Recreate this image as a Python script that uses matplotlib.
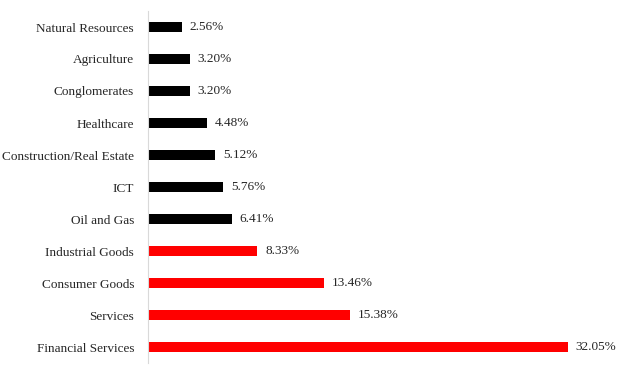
import matplotlib.pyplot as plt

categories = ['Financial Services', 'Services', 'Consumer Goods', 'Industrial Goods',
              'Oil and Gas', 'ICT', 'Construction/Real Estate', 'Healthcare',
              'Conglomerates', 'Agriculture', 'Natural Resources']
shares = [32.05, 15.38, 13.46, 8.33, 6.41, 5.76, 5.12, 4.48, 3.20, 3.20, 2.56]
colors = ['#ff0000'] * 4 + ['#000000'] * 7

plt.rcParams['font.family'] = ['Liberation Serif', 'DejaVu Serif']

fig = plt.figure(figsize=(6.22, 3.73), dpi=100)
ax = fig.add_axes([148 / 622, 10 / 373, 462 / 622, 352 / 373])

pos = range(len(categories))
ax.barh(pos, shares, height=0.33, color=colors)
for y, v in zip(pos, shares):
    ax.text(v + 0.6, y, '%.2f%%' % v, va='center', ha='left', fontsize=9.5, color='#262626')

ax.set_yticks(list(pos))
ax.set_yticklabels(categories, fontsize=9.5, color='#262626')
ax.tick_params(axis='y', length=0, pad=10)
ax.set_xticks([])
ax.set_xlim(0, 35.26)
ax.set_ylim(-0.5, 10.5)
for s in ['top', 'right', 'bottom']:
    ax.spines[s].set_visible(False)
ax.spines['left'].set_color('#d9d9d9')

fig.savefig('out.png', dpi=100)
